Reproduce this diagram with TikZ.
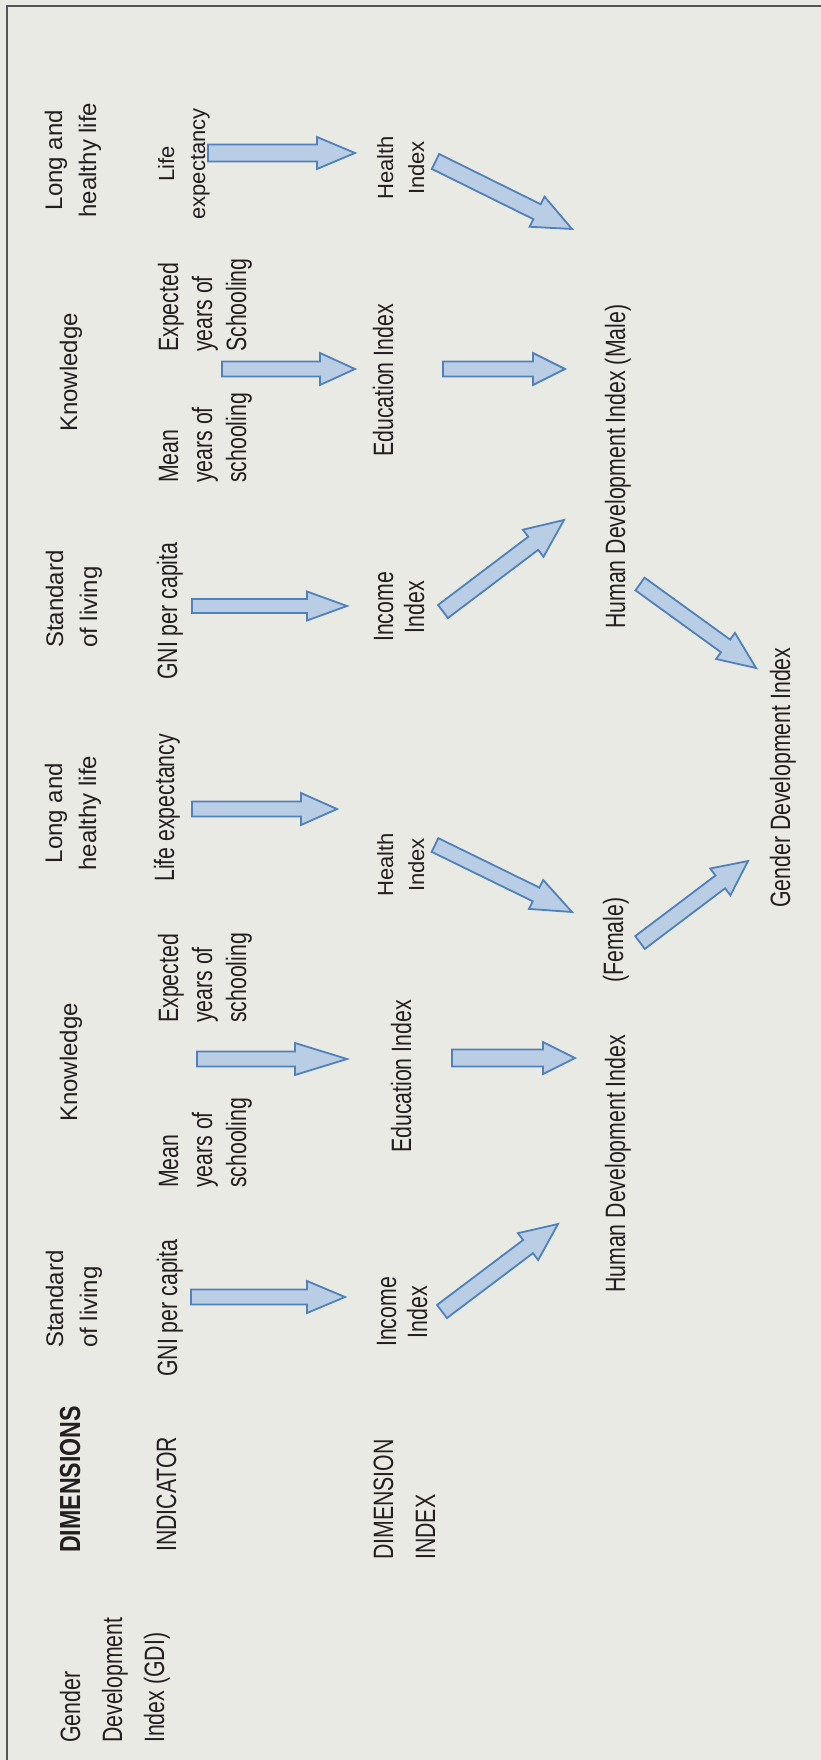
\documentclass[tikz,border=0pt]{standalone}
\usepackage{fontspec}
\setmainfont{Liberation Sans}
\newfontfamily\condfont[FakeStretch=0.76]{Liberation Sans}
\newfontfamily\condboldfont[FakeStretch=0.80]{Liberation Sans Bold}
\usetikzlibrary{calc}

\definecolor{paper}{RGB}{234,234,228}
\definecolor{ink}{RGB}{35,31,32}
\definecolor{arrowfill}{RGB}{185,205,228}
\definecolor{arrowline}{RGB}{79,129,189}
\definecolor{framegray}{RGB}{85,85,85}

% block arrow from tail (#1) to tip (#2):
% #3 shaft half width, #4 head half width, #5 head length
\newcommand\blockarrow[5]{%
  \coordinate (ba-base) at ($(#2)!#5!(#1)$);
  \draw[barrow]
    ($(#1)!#3!90:(#2)$) -- ($(ba-base)!#3!90:(#2)$) -- ($(ba-base)!#4!90:(#2)$)
    -- (#2)
    -- ($(ba-base)!#4!-90:(#2)$) -- ($(ba-base)!#3!-90:(#2)$) -- ($(#1)!#3!-90:(#2)$)
    -- cycle;
}

\begin{document}
\begin{tikzpicture}[x=1pt,y=-1pt,
  lbl/.style={rotate=90, inner sep=0pt, text=ink},
  cond/.style={lbl, font=\condfont\fontsize{28}{42}\selectfont},
  condbold/.style={lbl, font=\condboldfont\fontsize{29}{42}\selectfont},
  indic/.style={lbl, font=\condfont\fontsize{28}{34}\selectfont},
  dimidx/.style={lbl, font=\condfont\fontsize{28}{31}\selectfont},
  hdr/.style={lbl, font=\fontsize{24}{34}\selectfont},
  plain/.style={lbl, font=\fontsize{22}{31}\selectfont},
  barrow/.style={fill=arrowfill, draw=arrowline, line width=1.8pt, line join=miter},
]
\useasboundingbox (0,0) rectangle (821,1760);
\fill[paper] (0,0) rectangle (821,1760);
\draw[framegray, line width=2pt] (821,6) -- (7,6) -- (7,1760);

% multi-line labels are placed by the baseline of their last line

% ---- row labels ----
\node[cond, align=left, anchor=base west] (gdi) at (164,1743) {Gender\\Development\\Index (GDI)};
\node[condbold, anchor=base west] (dims) at (80,1553) {DIMENSIONS};
\node[cond, anchor=base west] (indrow) at (176,1552) {INDICATOR};
\node[cond, align=left, anchor=base west] (dimrow) at (435,1560) {DIMENSION\\INDEX};

% ---- female branch ----
\node[hdr, align=left, anchor=base west] (stdF) at (97,1348) {Standard\\of living};
\node[indic, anchor=base west] (gniF) at (177,1377) {GNI per capita};
\node[dimidx, align=center, anchor=base] (incF) at (427,1312) {Income\\Index};

\node[hdr, anchor=base west] (knowF) at (77,1122) {Knowledge};
\node[indic, align=left, anchor=base west] (meanF) at (246,1188) {Mean\\years of\\schooling};
\node[indic, align=left, anchor=base west] (expF) at (246,1023) {Expected\\years of\\schooling};
\node[cond, anchor=base west] (eduF) at (411,1153) {Education Index};

\node[hdr, align=center, anchor=base] (longF) at (96,813) {Long and\\healthy life};
\node[indic, anchor=base west] (lifeF) at (174,882) {Life expectancy};
\node[plain, align=center, anchor=base] (healthF) at (424,865) {Health\\Index};

\node[cond, anchor=base west] (hdiF) at (625,1293) {Human Development Index};
\node[cond, anchor=base west] (female) at (623,983) {(Female)};

% ---- male branch ----
\node[hdr, align=left, anchor=base west] (stdM) at (97,648) {Standard\\of living};
\node[indic, anchor=base west] (gniM) at (177,680) {GNI per capita};
\node[dimidx, align=center, anchor=base] (incM) at (424,607) {Income\\Index};

\node[hdr, anchor=base west] (knowM) at (77,432) {Knowledge};
\node[indic, align=left, anchor=base west] (meanM) at (246,483) {Mean\\years of\\schooling};
\node[indic, align=left, anchor=base west] (expM) at (246,352) {Expected\\years of\\Schooling};
\node[cond, anchor=base west] (eduM) at (393,457) {Education Index};

\node[hdr, align=center, anchor=base] (longM) at (96,160) {Long and\\healthy life};
\node[plain, align=center, anchor=base] (lifeM) at (205,164) {Life\\expectancy};
\node[plain, align=center, anchor=base] (healthM) at (424,168) {Health\\Index};

\node[cond, anchor=base west] (hdiM) at (625,629) {Human Development Index (Male)};

% ---- final index ----
\node[cond, anchor=base west] (gdiout) at (790,908) {Gender Development Index};

% ---- arrow end points ----
\coordinate (a1t) at (208,153);   \coordinate (a1h) at (355,153);
\coordinate (a2t) at (435.5,161.5); \coordinate (a2h) at (572,229);
\coordinate (a3t) at (222,369);   \coordinate (a3h) at (355,369);
\coordinate (a4t) at (443,369);   \coordinate (a4h) at (565,369);
\coordinate (a5t) at (192,606);   \coordinate (a5h) at (347,606);
\coordinate (a6t) at (443,611.5); \coordinate (a6h) at (564,520);
\coordinate (a7t) at (640,584);   \coordinate (a7h) at (756,668);
\coordinate (a8t) at (192,809);   \coordinate (a8h) at (337,809);
\coordinate (a9t) at (435,845);   \coordinate (a9h) at (572,912);
\coordinate (a10t) at (640,942.5); \coordinate (a10h) at (748,861);
\coordinate (a11t) at (197,1059); \coordinate (a11h) at (347,1059);
\coordinate (a12t) at (452,1058); \coordinate (a12h) at (575,1058);
\coordinate (a13t) at (191,1297); \coordinate (a13h) at (345,1297);
\coordinate (a14t) at (442,1311.5); \coordinate (a14h) at (558,1224);

% ---- block arrows ----
\blockarrow{a1t}{a1h}{8.5pt}{16pt}{38pt}
\blockarrow{a2t}{a2h}{8.3pt}{16.8pt}{39pt}
\blockarrow{a3t}{a3h}{7.5pt}{16pt}{35pt}
\blockarrow{a4t}{a4h}{7.5pt}{16pt}{32pt}
\blockarrow{a5t}{a5h}{7pt}{14.5pt}{40pt}
\blockarrow{a6t}{a6h}{8.2pt}{17pt}{38.6pt}
\blockarrow{a7t}{a7h}{7.8pt}{16.1pt}{37.6pt}
\blockarrow{a8t}{a8h}{7.5pt}{16pt}{36pt}
\blockarrow{a9t}{a9h}{7.6pt}{16.1pt}{40pt}
\blockarrow{a10t}{a10h}{8pt}{16.8pt}{34.7pt}
\blockarrow{a11t}{a11h}{7.5pt}{16pt}{52pt}
\blockarrow{a12t}{a12h}{8.5pt}{16pt}{32pt}
\blockarrow{a13t}{a13h}{7.5pt}{16pt}{38pt}
\blockarrow{a14t}{a14h}{8.2pt}{16.8pt}{37.5pt}
\end{tikzpicture}
\end{document}
